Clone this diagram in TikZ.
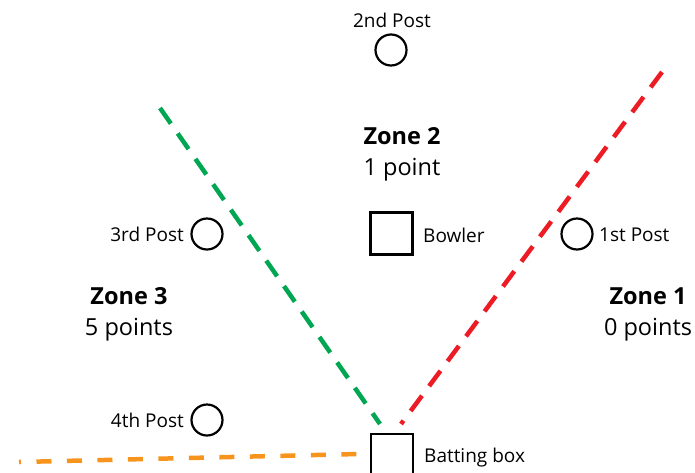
\documentclass[tikz,border=0pt]{standalone}
\usepackage{fontspec}
\setmainfont{Open Sans}
\begin{document}
\begin{tikzpicture}[x=1pt,y=-1pt,
  post/.style={circle,draw=black,line width=2.2pt,minimum size=31pt,inner sep=0pt},
  box/.style={rectangle,draw=black,line width=2.2pt,minimum size=42pt,inner sep=0pt},
  lbl/.style={font=\fontsize{19}{21}\selectfont,inner sep=0pt},
  zone/.style={font=\fontsize{23.5}{31}\selectfont,align=center,inner sep=0pt},
  zline/.style={line width=4.5pt,dash pattern=on 19pt off 12pt}]
\useasboundingbox (0,0) rectangle (695,472);
% dashed lines
\coordinate (g1) at (160,108);
\coordinate (g2) at (380,424);
\coordinate (r1) at (662,72);
\coordinate (r2) at (401,424);
\coordinate (o1) at (19,462);
\coordinate (o2) at (358,454);
\draw[zline,draw={rgb,255:red,0;green,166;blue,81}] (g1) -- (g2);
\draw[zline,draw={rgb,255:red,237;green,28;blue,36}] (r1) -- (r2);
\draw[line width=4.5pt,dash pattern=on 15pt off 15.5pt,dash phase=13pt,draw={rgb,255:red,247;green,148;blue,29}] (o1) -- (o2);
% posts
\node[post] (p2) at (391,50) {};
\node[lbl,anchor=base] (l2) at (392,27) {2nd Post};
\node[post] (p1) at (577,234) {};
\node[lbl,anchor=base west] (l1) at (599,241) {1st Post};
\node[post] (p3) at (207,234) {};
\node[lbl,anchor=base east] (l3) at (184,241) {3rd Post};
\node[post] (p4) at (207,420) {};
\node[lbl,anchor=base east] (l4) at (184,427) {4th Post};
% boxes
\node[box] (bowl) at (391.5,233.5) {};
\node[lbl,anchor=base west] (lb) at (423,242) {Bowler};
\node[box] (bat) at (392,455) {};
\node[lbl,anchor=base west] (lbat) at (424,462) {Batting box};
% zones
\node[zone] (z2) at (402,154) {\textbf{Zone 2}\\1 point};
\node[zone] (z3) at (129,314) {\textbf{Zone 3}\\5 points};
\node[zone] (z1) at (648,314) {\textbf{Zone 1}\\0 points};
\end{tikzpicture}
\end{document}
